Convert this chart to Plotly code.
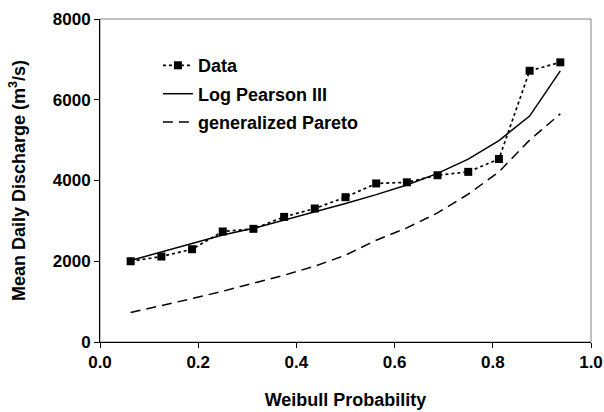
import plotly.graph_objects as go

prob = [0.0625, 0.125, 0.1875, 0.25, 0.3125, 0.375, 0.4375, 0.5, 0.5625,
        0.625, 0.6875, 0.75, 0.8125, 0.875, 0.9375]
data_q = [2000, 2117, 2298, 2737, 2803, 3099, 3306, 3587, 3927,
          3955, 4130, 4214, 4533, 6718, 6926]
lp3_q = [2020, 2235, 2445, 2648, 2815, 3017, 3220, 3430, 3650,
         3890, 4175, 4530, 4990, 5595, 6715]
gp_q = [729, 895, 1076, 1257, 1448, 1654, 1877, 2150, 2521,
        2826, 3198, 3661, 4214, 5000, 5650]

x_ticks = [0.0, 0.2, 0.4, 0.6, 0.8, 1.0]
y_ticks = [0, 2000, 4000, 6000, 8000]

FONT = "Liberation Sans, Arial, sans-serif"

fig = go.Figure()
fig.add_trace(go.Scatter(
    x=prob, y=data_q, name="Data", mode="lines+markers",
    line=dict(color="black", width=1.7, dash="dot"),
    marker=dict(symbol="square", size=8, color="black"),
    legendgroup="a"))
fig.add_trace(go.Scatter(
    x=prob, y=lp3_q, name="Log Pearson III", mode="lines",
    line=dict(color="black", width=1.5), legendgroup="b"))
fig.add_trace(go.Scatter(
    x=prob, y=gp_q, name="generalized Pareto", mode="lines",
    line=dict(color="black", width=1.5, dash="10px,6px"), legendgroup="c"))

fig.update_layout(
    width=604, height=412,
    margin=dict(l=100, r=13, t=19, b=70),
    paper_bgcolor="white", plot_bgcolor="white",
    font=dict(family=FONT, color="black"),
    showlegend=True,
    legend=dict(x=0.118, y=0.913, xanchor="left", yanchor="top",
                bgcolor="rgba(0,0,0,0)",
                font=dict(size=18, family=FONT, weight="bold"),
                tracegroupgap=2, itemwidth=30),
    shapes=[dict(type="rect", xref="paper", yref="paper", x0=0, x1=1, y0=0, y1=1,
                 line=dict(color="#808080", width=1), layer="below")],
)
fig.update_xaxes(
    range=[0, 1], tickvals=x_ticks, tickformat=".1f", automargin=False,
    ticks="outside", ticklen=5, tickcolor="black", tickwidth=1,
    showline=True, linecolor="black", linewidth=1, showgrid=False, zeroline=False,
    tickfont=dict(size=17, family=FONT, weight="bold"),
    title=dict(text="Weibull Probability", font=dict(size=18, family=FONT, weight="bold"), standoff=21),
)
fig.update_yaxes(
    range=[0, 8000], tickvals=y_ticks, tickformat="d", automargin=False,
    ticks="outside", ticklen=5, tickcolor="black", tickwidth=1,
    showline=True, linecolor="black", linewidth=1, showgrid=False, zeroline=False,
    tickfont=dict(size=17, family=FONT, weight="bold"),
    title=dict(text="Mean Daily Discharge (m<sup>3</sup>/s)", font=dict(size=18, family=FONT, weight="bold"), standoff=22),
)

fig.write_html(
    "out.html",
    config={"displayModeBar": False},
    post_script="document.body.style.margin='0';document.body.style.overflow='hidden';",
)
